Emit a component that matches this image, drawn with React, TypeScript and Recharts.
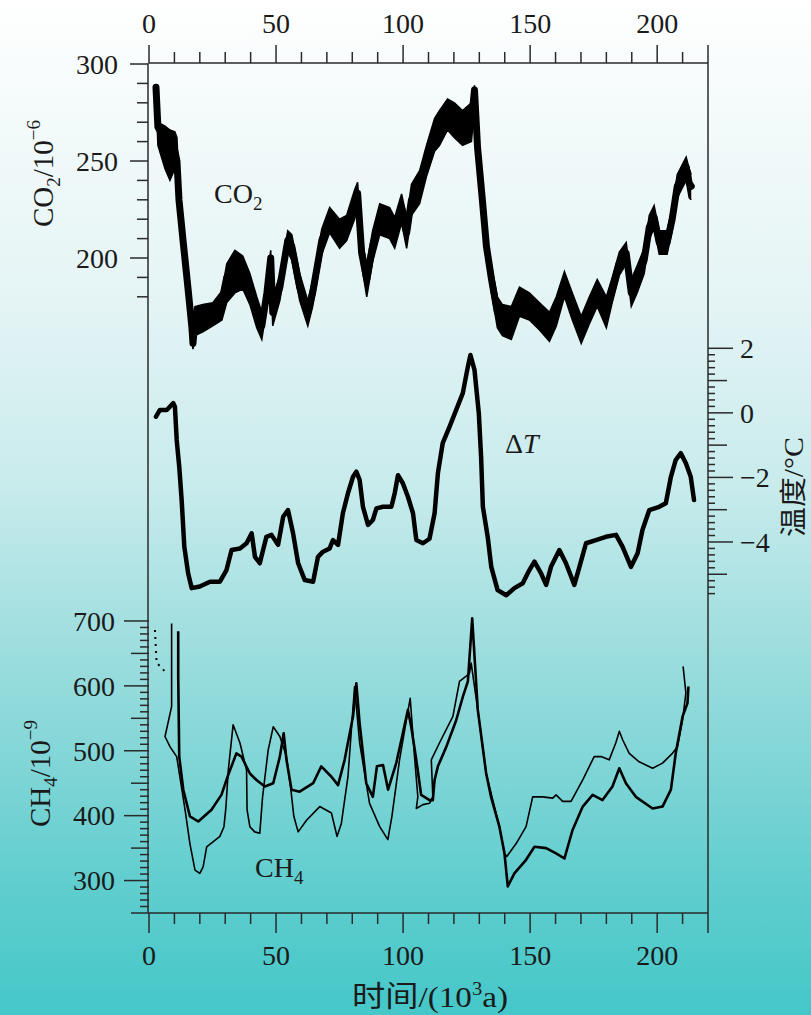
import React from 'react';
import { ComposedChart, Line, Area, XAxis, YAxis } from 'recharts';

const W = 811;
const H = 1015;

// ---------- axis ticks / labels ----------
const X_LABELS = [0, 50, 100, 150, 200];
const X_MAJOR = [0, 50, 100, 150, 200, 220];
const X_TICKS: number[] = [];
for (let t = 0; t <= 220; t += 10) X_TICKS.push(t);

const CO2_LABELS = [300, 250, 200];
const CO2_TICKS = [300, 290, 280, 270, 260, 250, 240, 230, 220, 210, 200, 190, 180];

const DT_LABELS = [2, 0, -2, -4];
const DT_ODD = [1, -1, -3, -5];
const DT_TICKS: number[] = [];
for (let i = 0; i <= 38; i++) DT_TICKS.push(Math.round((2 - i * 0.2) * 10) / 10);

const CH4_LABELS = [700, 600, 500, 400, 300];
const CH4_MID = [650, 550, 450, 350, 250];
const CH4_TICKS: number[] = [];
for (let t = 700; t >= 250; t -= 10) CH4_TICKS.push(t);

// axis domains (shared plot area spans all three panels)
const CO2_DOMAIN = [-137.63, 300.52];
const DT_DOMAIN = [-15.494, 10.838];
const CH4_DOMAIN = [250, 1559.8];

// ---------- data (time in 10^3 a) ----------
const CO2_T = [2.75, 3.5, 6.3, 8.25, 10.2, 11, 11.8, 13.4, 15.3, 16.9, 17.3, 18.1, 21.2, 25.1, 28.7, 30.6, 33.8, 36.9, 39.7, 42.4, 44.4, 46.4, 47.9, 48.7, 51.5, 54.6, 56.2, 59.3, 62.5, 64.4, 68, 71.1, 75, 77.8, 80.9, 82.1, 83.7, 85.7, 88, 90.8, 94.7, 96.7, 99.4, 101.4, 103.3, 106.5, 109.2, 112.4, 114.3, 117.5, 120.2, 123.4, 126.9, 128.1, 129.3, 131.2, 132.8, 134.8, 137.1, 139.1, 142.6, 145.8, 149.7, 153.6, 157.6, 160.3, 163.5, 166.6, 170.1, 173.3, 176.4, 180, 182.3, 185.1, 187.8, 189.8, 192.1, 194.9, 196.9, 198.8, 200.8, 203.9, 205.9, 207.9, 211.4, 212.6, 213.4];
const CO2_V = [288, 267.5, 261, 259, 255, 250, 230, 209, 185, 164, 156, 168, 170, 173, 178, 190, 199, 195, 185, 172, 165, 182, 200, 172, 185, 209, 206, 185, 172, 182, 209, 220, 213, 216, 228, 233.5, 202.5, 189, 206, 220, 218, 213, 226, 213, 230, 236.6, 250.5, 264, 267.5, 274.7, 271, 267.5, 271, 286.6, 257, 230, 206, 189, 172, 168, 166.5, 178, 175, 170, 164.5, 172, 187, 175, 163, 173, 182, 172, 183.5, 197.5, 202.5, 182, 189, 199, 216, 221, 208, 208, 220, 237, 247, 238.6, 237];
// upper / lower edge of the noisy CO2 band
const CO2_HI = [289, 270, 268, 266, 265, 262, 240, 215, 190, 172, 170, 175, 176, 177, 183, 197, 204, 201, 192, 180, 172, 188, 204, 180, 191, 214, 212, 192, 178, 188, 215, 226, 220, 222, 235, 239, 210, 197, 214, 228, 226, 221, 233, 221, 238, 245, 258, 272, 276, 282, 280, 276, 280, 289, 265, 238, 213, 196, 180, 176, 175, 185, 182, 177, 172, 180, 193, 182, 170, 180, 189, 180, 190, 203, 208, 189, 196, 205, 222, 227, 214, 214, 226, 243, 252, 246, 243];
const CO2_LO = [284, 258, 246, 240, 246, 243, 224, 203, 180, 158, 153, 160, 162, 165, 168, 177, 182, 184, 176, 164, 158, 175, 192, 165, 178, 203, 199, 178, 165, 175, 202, 213, 205, 209, 220, 226, 196, 180, 198, 212, 210, 205, 218, 205, 222, 228, 242, 255, 258, 266, 262, 258, 260, 278, 249, 222, 199, 182, 164, 160, 158, 170, 168, 163, 157, 165, 180, 168, 156, 166, 175, 164, 177, 191, 197, 175, 182, 192, 210, 215, 202, 202, 214, 231, 240, 231, 230];

const DT_T = [2.75, 4.3, 7, 9.55, 10.2, 10.9, 11.9, 12.85, 13.9, 15.4, 16.8, 20, 24, 27.9, 30.5, 32.5, 35.8, 38.4, 40.4, 41.7, 43.6, 46.2, 48.2, 50.8, 52.8, 54.7, 56.7, 58.7, 61.3, 64.6, 66.5, 68.5, 71.1, 72.4, 74.4, 76.3, 78.3, 80.3, 81.6, 82.9, 84.2, 86.2, 88.1, 89.5, 92.1, 95.4, 96.7, 98, 99.9, 101.9, 103.9, 105.2, 107.8, 110.4, 112.4, 113.7, 115.6, 118.3, 120.9, 123.5, 125.5, 126.5, 128.1, 129.8, 130.7, 131.4, 133.3, 134.7, 137.2, 140.6, 143.8, 147.1, 149.7, 151.7, 154.3, 156.3, 158.2, 161.5, 164.1, 167.4, 169.4, 172, 175.9, 179.8, 183.8, 186.4, 189.7, 192.3, 194.2, 196.9, 200.8, 203.4, 205.4, 207.3, 209.3, 211.3, 213.2, 214.5];
const DT_V = [-0.12, 0.09, 0.09, 0.3, 0.19, -0.84, -1.67, -2.7, -4.15, -4.97, -5.43, -5.38, -5.23, -5.23, -4.87, -4.25, -4.2, -4.04, -3.73, -4.46, -4.66, -3.84, -3.78, -4.09, -3.22, -3.01, -3.73, -4.66, -5.18, -5.23, -4.46, -4.3, -4.2, -3.94, -4.09, -3.11, -2.49, -1.98, -1.82, -2.08, -2.91, -3.47, -3.32, -2.96, -2.91, -2.91, -2.49, -1.93, -2.18, -2.6, -3.11, -3.94, -4.04, -3.9, -3.11, -1.87, -0.94, -0.43, 0.09, 0.61, 1.43, 1.79, 1.33, -0.01, -1.36, -2.91, -3.84, -4.77, -5.49, -5.65, -5.43, -5.28, -4.87, -4.61, -4.97, -5.33, -4.77, -4.25, -4.66, -5.33, -4.77, -4.04, -3.94, -3.84, -3.78, -4.15, -4.77, -4.35, -3.63, -3.01, -2.91, -2.8, -1.98, -1.46, -1.25, -1.56, -1.98, -2.7];

const CH4A_T = [11.5, 11.5, 11.9, 13.5, 16.1, 19.4, 24.6, 28.5, 31.2, 34.4, 36.4, 39.7, 42.3, 45.6, 48.9, 51.5, 53.0, 54.1, 56.1, 59.3, 64.6, 67.8, 71.8, 74.4, 77.0, 80.3, 81.6, 82.9, 85.5, 88.1, 89.7, 92.1, 94.1, 97.3, 99.9, 101.9, 103.2, 105.2, 107.1, 110.4, 111.7, 112.4, 113.7, 117, 120.9, 123.5, 125.5, 127.2, 129.4, 132.7, 134.6, 137.9, 139.9, 141.2, 143.8, 148.4, 151.7, 156.3, 160.2, 163.5, 166.7, 170.7, 174.6, 178.5, 182.4, 185.1, 187.7, 191.6, 198.2, 202.1, 205.4, 207.3, 210, 211.9, 212.3];
const CH4A_V = [684, 614, 491, 440, 399, 391, 409, 432, 463, 496, 491, 465, 455, 445, 450, 491, 527, 486, 440, 437, 450, 476, 460, 447, 486, 553, 604, 542, 450, 429, 476, 478, 440, 481, 527, 563, 537, 486, 432, 424, 424, 455, 476, 506, 547, 583, 607, 704, 563, 465, 429, 383, 342, 291, 311, 332, 352, 350, 342, 334, 378, 414, 432, 424, 445, 473, 450, 429, 411, 414, 440, 496, 553, 573, 599];

const CH4B_T = [8.9, 8.9, 6.3, 8.3, 10.9, 14.2, 16.1, 18.1, 20.0, 21.3, 22.7, 27.9, 29.5, 30.3, 31.2, 33.1, 35.8, 38.4, 38.6, 39.7, 41.6, 43.6, 44.7, 46.9, 48.9, 51.5, 54.1, 55.7, 57.0, 58.7, 62.0, 67.2, 71.8, 74.0, 75.7, 78.3, 80.9, 82.9, 86.8, 90.8, 94.0, 95.6, 98.6, 102.8, 104.5, 105.8, 105.2, 107.8, 110.4, 111.7, 111.1, 114.3, 119.6, 122.2, 126.1, 126.8, 129.4, 132.7, 137.9, 139.9, 140.8, 144.5, 148.4, 151.0, 154.9, 158.9, 160.2, 162.8, 166.1, 170.7, 175.2, 177.9, 181.1, 183.7, 185.1, 186.4, 189.0, 192.9, 198.2, 202.1, 206.0, 208.0, 210.0, 211.3, 210.2];
const CH4B_V = [696, 568, 522, 506, 491, 409, 357, 316, 311, 321, 352, 368, 383, 414, 470, 540, 512, 470, 409, 383, 375, 373, 429, 501, 537, 522, 491, 445, 399, 375, 393, 414, 404, 368, 388, 460, 599, 512, 419, 383, 363, 399, 486, 581, 491, 429, 411, 417, 419, 429, 486, 512, 553, 607, 619, 635, 563, 465, 383, 342, 337, 357, 383, 429, 429, 427, 432, 422, 422, 455, 491, 491, 486, 512, 530, 517, 496, 483, 473, 481, 496, 506, 548, 589, 630];

const CH4C_T = [2.35, 2.6, 3.0, 4.5, 6.3];
const CH4C_V = [686, 665, 635, 630, 622];

const toPts = (t: number[], v: number[]) => t.map((x, i) => ({ x, v: v[i] }));
const co2Data = toPts(CO2_T, CO2_V);
const co2Band = CO2_T.map((x, i) => ({ x, r: [CO2_LO[i], CO2_HI[i]] }));
const dtData = toPts(DT_T, DT_V);
const ch4aData = toPts(CH4A_T, CH4A_V);
const ch4bData = toPts(CH4B_T, CH4B_V);
const ch4cData = toPts(CH4C_T, CH4C_V);

// ---------- styles ----------
const AX = '#2a2a2a';
const FONT = '"Liberation Serif", "Times New Roman", "DejaVu Serif", serif';
const MIXED = '"Liberation Serif", "Noto Sans CJK SC", serif';
const TXT = { fontFamily: FONT, fontSize: 28, fill: '#1a1a1a' } as const;
const near = (a: number, list: number[]) => list.some((b) => Math.abs(a - b) < 1e-6);
const fmt = (v: number) => (v < 0 ? '\u2212' + Math.abs(v) : String(v));

const TopTick = (props: any) => {
  const { x, y, payload } = props;
  const v = payload.value;
  const len = near(v, X_MAJOR) ? 18 : 11;
  return (
    <g>
      <line x1={x} x2={x} y1={y} y2={y - len} stroke={AX} strokeWidth={1.5} />
      {near(v, X_LABELS) && (
        <text x={x} y={y - 30} textAnchor="middle" {...TXT}>{v}</text>
      )}
    </g>
  );
};

const BottomTick = (props: any) => {
  const { x, y, payload } = props;
  const v = payload.value;
  const len = near(v, X_MAJOR) ? 20 : 11;
  return (
    <g>
      <line x1={x} x2={x} y1={y} y2={y + len} stroke={AX} strokeWidth={1.5} />
      {near(v, X_LABELS) && (
        <text x={x} y={y + 52} textAnchor="middle" {...TXT}>{v}</text>
      )}
    </g>
  );
};

const Co2Tick = (props: any) => {
  const { x, y, payload } = props;
  const v = payload.value;
  const lab = near(v, CO2_LABELS);
  const len = lab ? 18 : 11;
  return (
    <g>
      <line x1={x} x2={x - len} y1={y} y2={y} stroke={AX} strokeWidth={1.5} />
      {lab && (
        <text x={x - 30} y={y} dy="0.35em" textAnchor="end" {...TXT}>{v}</text>
      )}
    </g>
  );
};

const DtTick = (props: any) => {
  const { x, y, payload } = props;
  const v = payload.value;
  const lab = near(v, DT_LABELS);
  const len = lab ? 25 : near(v, DT_ODD) ? 19 : 7;
  return (
    <g>
      <line x1={x} x2={x + len} y1={y} y2={y} stroke={AX} strokeWidth={1.5} />
      {lab && (
        <text x={x + 32} y={y} dy="0.35em" textAnchor="start" {...TXT}>{fmt(v)}</text>
      )}
    </g>
  );
};

const Ch4Tick = (props: any) => {
  const { x, y, payload } = props;
  const v = payload.value;
  const lab = near(v, CH4_LABELS);
  const len = lab ? 25 : near(v, CH4_MID) ? 18 : 9;
  return (
    <g>
      <line x1={x} x2={x - len} y1={y} y2={y} stroke={AX} strokeWidth={1.5} />
      {lab && (
        <text x={x - 34} y={y} dy="0.35em" textAnchor="end" {...TXT}>{v}</text>
      )}
    </g>
  );
};

const axisLine = { stroke: AX, strokeWidth: 1.5 };

export default function App() {
  return (
    <div
      style={{
        position: 'absolute',
        left: 0,
        top: 0,
        width: W,
        height: H,
        overflow: 'hidden',
        background:
          'linear-gradient(to bottom, #ffffff 0%, #f3fafa 12%, #e4f4f5 30%, #c8ebec 48%, #a2dfe0 62%, #7fd5d6 76%, #5ecdce 88%, #45c7c8 100%)',
      }}
    >
      <div style={{ position: 'absolute', left: 0, top: 0 }}>
        <ComposedChart width={W} height={H} margin={{ top: 62, right: 102, bottom: 101, left: 147 }}>
          <XAxis
            xAxisId="t"
            orientation="top"
            type="number"
            dataKey="x"
            domain={[0, 220]}
            ticks={X_TICKS}
            interval={0}
            height={1}
            tickSize={0}
            tickMargin={0}
            tickLine={false}
            tick={TopTick}
            axisLine={axisLine}
            allowDataOverflow
          />
          <XAxis
            xAxisId="b"
            orientation="bottom"
            type="number"
            dataKey="x"
            domain={[0, 220]}
            ticks={X_TICKS}
            interval={0}
            height={1}
            tickSize={0}
            tickMargin={0}
            tickLine={false}
            tick={BottomTick}
            axisLine={axisLine}
            allowDataOverflow
          />
          <YAxis
            yAxisId="co2"
            orientation="left"
            type="number"
            domain={CO2_DOMAIN}
            ticks={CO2_TICKS}
            interval={0}
            width={1}
            tickSize={0}
            tickMargin={0}
            tickLine={false}
            tick={Co2Tick}
            axisLine={axisLine}
            allowDataOverflow
          />
          <YAxis
            yAxisId="ch4"
            orientation="left"
            type="number"
            domain={CH4_DOMAIN}
            ticks={CH4_TICKS}
            interval={0}
            width={1}
            tickSize={0}
            tickMargin={0}
            tickLine={false}
            tick={Ch4Tick}
            axisLine={false}
            allowDataOverflow
          />
          <YAxis
            yAxisId="dt"
            orientation="right"
            type="number"
            domain={DT_DOMAIN}
            ticks={DT_TICKS}
            interval={0}
            width={1}
            tickSize={0}
            tickMargin={0}
            tickLine={false}
            tick={DtTick}
            axisLine={axisLine}
            allowDataOverflow
          />
          <Area
            data={co2Band}
            dataKey="r"
            xAxisId="b"
            yAxisId="co2"
            type="linear"
            stroke="#000"
            strokeWidth={1.5}
            fill="#000"
            fillOpacity={1}
            dot={false}
            activeDot={false}
            isAnimationActive={false}
          />
          <Line
            data={co2Data}
            dataKey="v"
            xAxisId="b"
            yAxisId="co2"
            type="linear"
            stroke="#000"
            strokeWidth={7}
            strokeLinejoin="round"
            strokeLinecap="round"
            dot={false}
            isAnimationActive={false}
          />
          <Line
            data={dtData}
            dataKey="v"
            xAxisId="b"
            yAxisId="dt"
            type="linear"
            stroke="#000"
            strokeWidth={4.5}
            strokeLinejoin="round"
            strokeLinecap="round"
            dot={false}
            isAnimationActive={false}
          />
          <Line
            data={ch4bData}
            dataKey="v"
            xAxisId="b"
            yAxisId="ch4"
            type="linear"
            stroke="#000"
            strokeWidth={1.6}
            strokeLinejoin="round"
            dot={false}
            isAnimationActive={false}
          />
          <Line
            data={ch4aData}
            dataKey="v"
            xAxisId="b"
            yAxisId="ch4"
            type="linear"
            stroke="#000"
            strokeWidth={2.6}
            strokeLinejoin="round"
            dot={false}
            isAnimationActive={false}
          />
          <Line
            data={ch4cData}
            dataKey="v"
            xAxisId="b"
            yAxisId="ch4"
            type="linear"
            stroke="#000"
            strokeWidth={2}
            strokeDasharray="2 5"
            dot={false}
            isAnimationActive={false}
          />
        </ComposedChart>
      </div>
      <svg
        width={W}
        height={H}
        style={{ position: 'absolute', left: 0, top: 0, pointerEvents: 'none' }}
      >
        {/* series labels */}
        <text x={214} y={203} {...TXT}>
          CO<tspan dy={7} fontSize={19}>2</tspan>
        </text>
        <text x={505} y={453} {...TXT}>
          Δ<tspan fontStyle="italic">T</tspan>
        </text>
        <text x={255} y={877} {...TXT}>
          CH<tspan dy={7} fontSize={19}>4</tspan>
        </text>

        {/* axis titles */}
        <text transform="translate(53,227) rotate(-90)" {...TXT} fontSize={29}>
          CO<tspan dy={7} fontSize={19}>2</tspan>
          <tspan dy={-7}>/10</tspan>
          <tspan dy={-13} fontSize={19}>−6</tspan>
        </text>
        <text transform="translate(50,827) rotate(-90)" {...TXT} fontSize={29}>
          CH<tspan dy={7} fontSize={19}>4</tspan>
          <tspan dy={-7}>/10</tspan>
          <tspan dy={-13} fontSize={19}>−9</tspan>
        </text>
        <text
          transform="translate(803,537) rotate(-90)"
          fontFamily={MIXED}
          fontSize={27}
          fill="#1a1a1a"
          textLength={100}
          lengthAdjust="spacingAndGlyphs"
        >
          温度/°C
        </text>
        <text
          x={352}
          y={1007}
          fontFamily={MIXED}
          fontSize={29}
          fill="#1a1a1a"
          textLength={156}
          lengthAdjust="spacingAndGlyphs"
        >
          时间/(10<tspan dy={-12} fontSize={18}>3</tspan>
          <tspan dy={12}>a)</tspan>
        </text>
      </svg>
    </div>
  );
}
